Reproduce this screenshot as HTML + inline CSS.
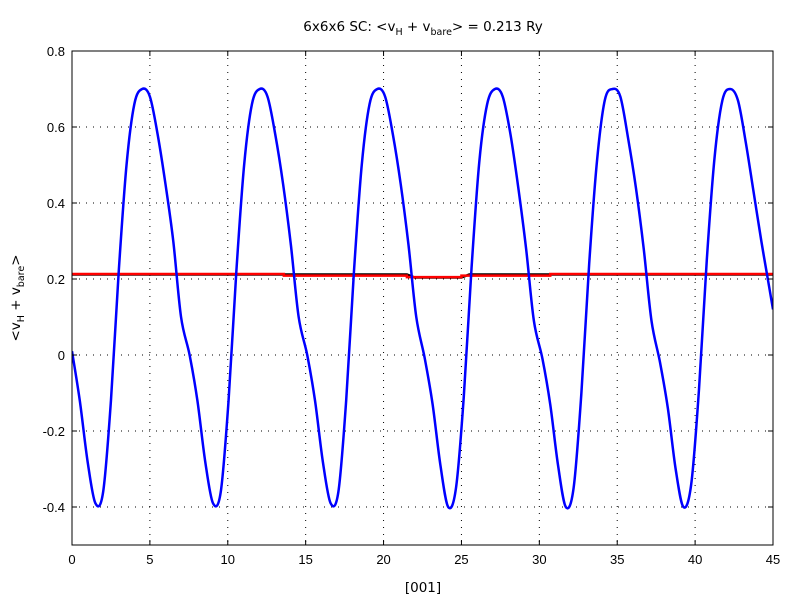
<!DOCTYPE html>
<html><head><meta charset="utf-8"><style>
body{margin:0;background:#fff}
svg text{font-family:"Liberation Sans",sans-serif;font-size:13px;fill:#000}
svg text.ttl{font-family:"DejaVu Sans",sans-serif;font-size:13.5px}
</style></head><body>
<svg id="chart" width="800" height="600">
<rect x="0" y="0" width="800" height="600" fill="#fff"/>
<g id="grid"></g>
<g id="series"></g>
<rect x="72" y="51" width="701" height="494" fill="none" stroke="#000" stroke-width="1"/>
<g id="axes"></g>
<text class="ttl" x="423" y="31" text-anchor="middle">6x6x6 SC: &lt;v<tspan font-size="9.5" dy="4">H</tspan><tspan dy="-4"> + v</tspan><tspan font-size="9.5" dy="4">bare</tspan><tspan dy="-4">&gt; = 0.213 Ry</tspan></text>
<text class="ttl" x="423" y="592" text-anchor="middle">[001]</text>
<text class="ttl" transform="translate(20,298) rotate(-90)" text-anchor="middle">&lt;v<tspan font-size="9.5" dy="4">H</tspan><tspan dy="-4"> + v</tspan><tspan font-size="9.5" dy="4">bare</tspan><tspan dy="-4">&gt;</tspan></text>
</svg>
<script>
const xTicks=[0,5,10,15,20,25,30,35,40,45];
const yTicks=[-0.4,-0.2,0,0.2,0.4,0.6,0.8];
const yTickLabels=["-0.4","-0.2","0","0.2","0.4","0.6","0.8"];
const blueX=[0,0.5,1,1.5,2,2.5,3,3.5,4,4.5,5,5.5,6,6.5,7,
7.55,8.05,8.55,9.05,9.55,10.05,10.55,11.05,11.55,12.05,12.55,13.05,13.55,14.05,14.55,
15.1,15.6,16.1,16.6,17.1,17.6,18.1,18.6,19.1,19.6,20.1,20.6,21.1,21.6,22.1,
22.65,23.15,23.65,24.15,24.65,25.15,25.65,26.15,26.65,27.15,27.65,28.15,28.65,29.15,29.65,
30.2,30.7,31.2,31.7,32.2,32.7,33.2,33.7,34.2,34.7,35.2,35.7,36.2,36.7,37.2,
37.75,38.25,38.75,39.25,39.75,40.25,40.75,41.25,41.75,42.25,42.75,43.25,43.75,44.25,44.75,45];
const blueY=[0.01,-0.12,-0.28,-0.39,-0.36,-0.12,0.22,0.50,0.66,0.70,0.68,0.58,0.45,0.30,0.10,
0.00,-0.12,-0.28,-0.39,-0.36,-0.12,0.22,0.50,0.66,0.70,0.68,0.58,0.45,0.29,0.10,
0.00,-0.12,-0.28,-0.39,-0.36,-0.12,0.22,0.50,0.66,0.70,0.68,0.58,0.45,0.29,0.10,
-0.01,-0.13,-0.29,-0.40,-0.35,-0.11,0.23,0.51,0.66,0.70,0.68,0.58,0.44,0.28,0.09,
-0.01,-0.13,-0.29,-0.40,-0.35,-0.10,0.24,0.51,0.67,0.70,0.68,0.57,0.44,0.28,0.09,
-0.02,-0.14,-0.30,-0.40,-0.34,-0.09,0.25,0.52,0.67,0.70,0.67,0.56,0.43,0.30,0.18,0.12];
const blackX=[0,21.5,22,25,25.5,45];
const blackY=[0.212,0.212,0.204,0.204,0.212,0.212];
const redX=[0,13.6,13.6,21.5,21.5,25,25,30.7,30.7,45];
const redY=[0.213,0.213,0.209,0.209,0.205,0.205,0.209,0.209,0.213,0.213];
const X0=72,X1=773,Y0=545,Y1=51;
const sx=v=>X0+(v-0)/(45-0)*(X1-X0);
const sy=v=>Y0-(v+0.5)/(1.3)*(Y0-Y1);
const NS="http://www.w3.org/2000/svg";
function mk(t,a,p){const e=document.createElementNS(NS,t);for(const k in a)e.setAttribute(k,a[k]);p.appendChild(e);return e;}
const grid=document.getElementById('grid'),axes=document.getElementById('axes'),ser=document.getElementById('series');
xTicks.forEach((t,i)=>{
 const x=sx(t);
 if(i>0&&i<xTicks.length-1){const g=mk('line',{x1:x,x2:x,y1:Y1,y2:Y0,stroke:'#000','stroke-width':1,'stroke-dasharray':'1,6'},grid);
 
 }
 const tk=mk('line',{x1:x,x2:x,y1:Y0,y2:Y0-5,stroke:'#000'},axes);
 
 
 const tk2=mk('line',{x1:x,x2:x,y1:Y1,y2:Y1+5,stroke:'#000'},axes);
 
 
 const tx=mk('text',{x:x,y:Y0+19,'text-anchor':'middle'},axes);tx.textContent=String(t);
 
 
});
yTicks.forEach((t,i)=>{
 const y=sy(t);
 if(t<0.8){const g=mk('line',{x1:X0,x2:X1,y1:y,y2:y,stroke:'#000','stroke-width':1,'stroke-dasharray':'1,6'},grid);
 
 }
 const tk=mk('line',{x1:X0,x2:X0+5,y1:y,y2:y,stroke:'#000'},axes);
 
 
 const tk2=mk('line',{x1:X1,x2:X1-5,y1:y,y2:y,stroke:'#000'},axes);
 
 
 const tx=mk('text',{x:X0-7,y:y+5,'text-anchor':'end'},axes);tx.textContent=yTickLabels[i];
 
 
});
function smooth(xs,ys){const p=xs.map((x,i)=>[sx(x),sy(ys[i])]);let d='M'+p[0][0]+','+p[0][1];
 for(let i=0;i<p.length-1;i++){const a=p[Math.max(0,i-1)],b=p[i],c=p[i+1],e=p[Math.min(p.length-1,i+2)];
 d+=' C'+(b[0]+(c[0]-a[0])/6)+','+(b[1]+(c[1]-a[1])/6)+' '+(c[0]-(e[0]-b[0])/6)+','+(c[1]-(e[1]-b[1])/6)+' '+c[0]+','+c[1];}return d;}
function poly(xs,ys){return xs.map((x,i)=>(i?'L':'M')+sx(x)+','+sy(ys[i])).join(' ');}
const cp=mk('clipPath',{id:'clip'},document.getElementById('chart'));mk('rect',{x:X0,y:Y1,width:X1-X0,height:Y0-Y1},cp);
const bl=mk('path',{d:poly(blackX,blackY),fill:'none',stroke:'#000','stroke-width':2.5},ser);


const rd=mk('path',{d:poly(redX,redY),fill:'none',stroke:'#f00','stroke-width':2.5},ser);


const bu=mk('path',{d:smooth(blueX,blueY),fill:'none',stroke:'#00f','stroke-width':2.5,'clip-path':'url(#clip)'},ser);


</script>
</body></html>
